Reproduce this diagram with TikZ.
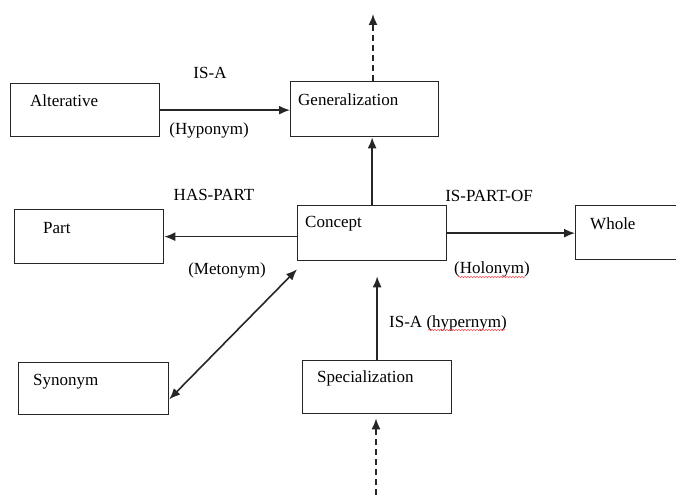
\documentclass[tikz,border=0pt]{standalone}
\usepackage{fontspec}
\setmainfont{Liberation Serif}
\usetikzlibrary{arrows.meta,calc,decorations.pathmorphing}
\begin{document}
\begin{tikzpicture}[x=1pt,y=-1pt,
  box/.style={draw=black!85,line width=1.3pt,rectangle,inner sep=0pt,anchor=north west},
  txt/.style={font=\fontsize{17}{20}\selectfont,inner sep=0pt,text=black},
  tip/.style={Latex[length=11pt,width=9pt]},
  conn/.style={line width=1.6pt,draw=black!85,-{Latex[length=11pt,width=9pt]}},
  dconn/.style={conn,dash pattern=on 6pt off 4pt},
  squig/.style={draw=red!70,line width=0.5pt,decorate,decoration={snake,amplitude=0.8pt,segment length=3pt}}]
\useasboundingbox (0,0) rectangle (676,495);
\clip (0,0) rectangle (676,495);
% boxes
\node[box,minimum width=149pt,minimum height=53pt] (alt) at (10,83) {};
\node[box,minimum width=148pt,minimum height=55pt] (gen) at (290,81) {};
\node[box,minimum width=149pt,minimum height=54pt] (part) at (14,209) {};
\node[box,minimum width=149pt,minimum height=55pt] (conc) at (297,205) {};
\node[box,minimum width=130pt,minimum height=54pt] (whole) at (575,205) {};
\node[box,minimum width=150pt,minimum height=52pt] (syn) at (18,362) {};
\node[box,minimum width=149pt,minimum height=53pt] (spec) at (302,360) {};
% box texts
\node[txt,anchor=west] (altT) at (30,101) {Alterative};
\node[txt,anchor=west] (genT) at (298,100) {Generalization};
\node[txt,anchor=west] (partT) at (43,228) {Part};
\node[txt,anchor=west] (concT) at (305,224) {Concept};
\node[txt,anchor=west] (wholeT) at (590,224) {Whole};
\node[txt,anchor=west] (synT) at (33,382) {Synonym};
\node[txt,anchor=west] (specT) at (317,378) {Specialization};
% connector labels
\node[txt] (isa) at (210,73) {IS-A};
\node[txt] (hypo) at (209,130) {(Hyponym)};
\node[txt] (haspart) at (214,195) {HAS-PART};
\node[txt] (meto) at (227,270) {(Metonym)};
\node[txt] (ispartof) at (489,196) {IS-PART-OF};
\node[txt] (holo) at (492,269) {(Holonym)};
\node[txt,anchor=west] (hyper) at (389,323) {IS-A (hypernym)};
% spell-check squiggles
\draw[squig] (458,277) -- (525,277);
\draw[squig] (428,330) -- (505,330);
% free ends
\coordinate (gtop) at (373,14);
\coordinate (sbot) at (376,495);
% connectors
\draw[conn] (alt.east) -- (alt.east -| gen.west);
\draw[conn] (part.east -| conc.west) -- (part.east);
\draw[conn] (conc.east) -- (conc.east -| whole.west);
\draw[conn] (conc.north) -- (conc.north |- gen.south);
\draw[dconn] (gtop |- gen.north) -- (gtop);
\draw[conn,shorten >=15pt] (spec.north) -- (spec.north |- conc.south);
\draw[dconn,shorten >=4pt] (sbot) -- (sbot |- spec.south);
\draw[conn,{Latex[length=11pt,width=9pt]}-{Latex[length=11pt,width=9pt]}] ($(syn.south east)+(0,-16)$) -- ($(conc.south west)+(0,8)$);
\end{tikzpicture}
\end{document}
